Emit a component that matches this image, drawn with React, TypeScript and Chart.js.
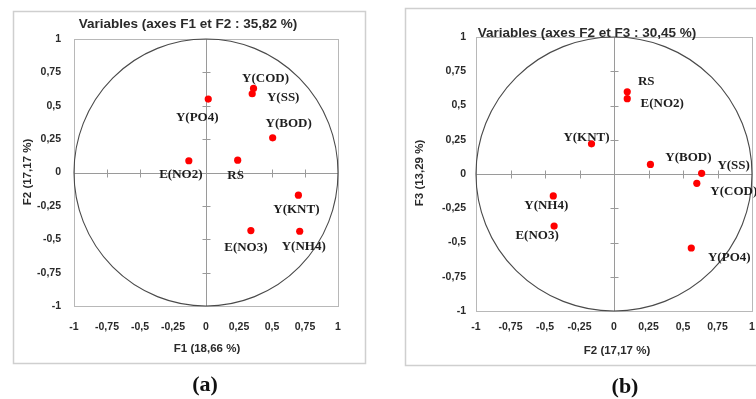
import React, { useEffect, useRef } from "react";
import { Chart, registerables } from "chart.js";

Chart.register(...registerables);

// ---- data ----
const labelsA = ["Y(PO4)", "Y(COD)", "Y(SS)", "Y(BOD)", "E(NO2)", "RS", "Y(KNT)", "E(NO3)", "Y(NH4)"];
const f1A = [0.017, 0.36, 0.35, 0.505, -0.13, 0.24, 0.7, 0.34, 0.71];
const f2A = [0.55, 0.63, 0.59, 0.26, 0.088, 0.092, -0.17, -0.435, -0.44];

const labelsB = ["RS", "E(NO2)", "Y(KNT)", "Y(BOD)", "Y(SS)", "Y(COD)", "Y(NH4)", "E(NO3)", "Y(PO4)"];
const f2B = [0.096, 0.096, -0.163, 0.264, 0.635, 0.6, -0.44, -0.434, 0.56];
const f3B = [0.6, 0.55, 0.22, 0.07, 0.005, -0.068, -0.16, -0.38, -0.54];

const tickValues = [-1, -0.75, -0.5, -0.25, 0, 0.25, 0.5, 0.75, 1];
const tickLabels = ["-1", "-0,75", "-0,5", "-0,25", "0", "0,25", "0,5", "0,75", "1"];

// ---- layout / style (not data) ----
const offsetsA: [number, number][] = [
  [-11, 19], [12, -10], [31, 4], [16, -14], [-8, 14], [-2, 15], [-2, 14], [-5, 17], [4, 15],
];
const offsetsB: [number, number][] = [
  [19, -10], [35, 5], [-5, -6], [38, -7], [32, -8], [37, 8], [-7, 10], [-17, 10], [38, 10],
];

type Panel = {
  labels: string[];
  xs: number[];
  ys: number[];
  offsets: [number, number][];
  title: string;
  titlePos: [number, number];
  xTitle: string;
  xTitlePos: [number, number];
  yTitle: string;
  yTitlePos: [number, number];
  caption: string;
  captionPos: [number, number];
  frame: [number, number, number, number];
  padding: { left: number; top: number; right: number; bottom: number };
  yTickGap: number;
  xTickGap: number;
};

const panelA: Panel = {
  labels: labelsA,
  xs: f1A,
  ys: f2A,
  offsets: offsetsA,
  title: "Variables (axes F1 et F2 : 35,82 %)",
  titlePos: [188, 24],
  xTitle: "F1 (18,66 %)",
  xTitlePos: [207, 349],
  yTitle: "F2 (17,17 %)",
  yTitlePos: [28, 172],
  caption: "(a)",
  captionPos: [205, 385],
  frame: [13.5, 11.5, 352, 352],
  padding: { left: 74, top: 39, right: 40, bottom: 93 },
  yTickGap: 13,
  xTickGap: 21,
};

const panelB: Panel = {
  labels: labelsB,
  xs: f2B,
  ys: f3B,
  offsets: offsetsB,
  title: "Variables (axes F2 et F3 : 30,45 %)",
  titlePos: [209, 33],
  xTitle: "F2 (17,17 %)",
  xTitlePos: [239, 351],
  yTitle: "F3 (13,29 %)",
  yTitlePos: [42, 173],
  caption: "(b)",
  captionPos: [247, 387],
  frame: [27.5, 8.5, 400, 357],
  padding: { left: 98, top: 37, right: 2, bottom: 88 },
  yTickGap: 10,
  xTickGap: 16,
};

function makePlugin(p: Panel) {
  return {
    id: "pcaDecor",
    beforeDatasetsDraw(chart: any) {
      const ctx = chart.ctx as CanvasRenderingContext2D;
      const a = chart.chartArea;
      const xs = chart.scales.x;
      const ys = chart.scales.y;
      ctx.save();
      // outer frame
      ctx.strokeStyle = "#cfcfcf";
      ctx.lineWidth = 1.5;
      ctx.strokeRect(p.frame[0], p.frame[1], p.frame[2], p.frame[3]);
      // plot area border
      ctx.strokeStyle = "#b8b8b8";
      ctx.lineWidth = 1;
      ctx.strokeRect(Math.round(a.left) + 0.5, Math.round(a.top) + 0.5, Math.round(a.width), Math.round(a.height));
      // zero axes
      const x0 = Math.round(xs.getPixelForValue(0)) + 0.5;
      const y0 = Math.round(ys.getPixelForValue(0)) + 0.5;
      ctx.strokeStyle = "#9a9a9a";
      ctx.beginPath();
      ctx.moveTo(a.left, y0);
      ctx.lineTo(a.right, y0);
      ctx.moveTo(x0, a.top);
      ctx.lineTo(x0, a.bottom);
      for (const v of tickValues) {
        if (v === 0 || Math.abs(v) === 1) continue;
        const px = Math.round(xs.getPixelForValue(v)) + 0.5;
        const py = Math.round(ys.getPixelForValue(v)) + 0.5;
        ctx.moveTo(px, y0 - 4);
        ctx.lineTo(px, y0 + 4);
        ctx.moveTo(x0 - 4, py);
        ctx.lineTo(x0 + 4, py);
      }
      ctx.stroke();
      // correlation circle
      const cx = xs.getPixelForValue(0);
      const cy = ys.getPixelForValue(0);
      const rx = xs.getPixelForValue(1) - cx;
      const ry = cy - ys.getPixelForValue(1);
      ctx.strokeStyle = "#4a4a4a";
      ctx.lineWidth = 1.1;
      ctx.beginPath();
      ctx.ellipse(cx, cy, rx, ry, 0, 0, Math.PI * 2);
      ctx.stroke();
      ctx.restore();
    },
    afterDatasetsDraw(chart: any) {
      const ctx = chart.ctx as CanvasRenderingContext2D;
      const a = chart.chartArea;
      const xs = chart.scales.x;
      const ys = chart.scales.y;
      ctx.save();
      // tick labels
      ctx.fillStyle = "#2a2a2a";
      ctx.font = "bold 10.5px 'Liberation Sans', Arial, sans-serif";
      ctx.textBaseline = "middle";
      ctx.textAlign = "right";
      tickValues.forEach((v, i) => {
        ctx.fillText(tickLabels[i], a.left - p.yTickGap, ys.getPixelForValue(v));
      });
      ctx.textAlign = "center";
      tickValues.forEach((v, i) => {
        ctx.fillText(tickLabels[i], xs.getPixelForValue(v), a.bottom + p.xTickGap);
      });
      // axis titles
      ctx.font = "bold 11.5px 'Liberation Sans', Arial, sans-serif";
      ctx.fillText(p.xTitle, p.xTitlePos[0], p.xTitlePos[1]);
      ctx.save();
      ctx.translate(p.yTitlePos[0], p.yTitlePos[1]);
      ctx.rotate(-Math.PI / 2);
      ctx.fillText(p.yTitle, 0, 0);
      ctx.restore();
      // chart title
      ctx.font = "bold 13.5px 'Liberation Sans', Arial, sans-serif";
      ctx.fillText(p.title, p.titlePos[0], p.titlePos[1]);
      // point labels
      ctx.fillStyle = "#1e1e1e";
      ctx.font = "bold 13px 'Liberation Serif', 'Times New Roman', serif";
      const meta = chart.getDatasetMeta(0);
      meta.data.forEach((el: any, i: number) => {
        const o = p.offsets[i];
        ctx.fillText(p.labels[i], el.x + o[0], el.y + o[1]);
      });
      // caption
      ctx.fillStyle = "#111";
      ctx.font = "bold 22px 'Liberation Serif', 'Times New Roman', serif";
      ctx.fillText(p.caption, p.captionPos[0], p.captionPos[1]);
      ctx.restore();
    },
  };
}

function PcaChart({ panel, left }: { panel: Panel; left: number }) {
  const ref = useRef<HTMLCanvasElement | null>(null);
  useEffect(() => {
    if (!ref.current) return;
    const chart = new Chart(ref.current, {
      type: "scatter",
      data: {
        datasets: [
          {
            data: panel.xs.map((x, i) => ({ x, y: panel.ys[i] })),
            backgroundColor: "#ff0000",
            borderWidth: 0,
            pointRadius: 3.6,
          },
        ],
      },
      options: {
        animation: false,
        responsive: false,
        devicePixelRatio: 1,
        layout: { padding: panel.padding },
        scales: {
          x: { type: "linear", min: -1, max: 1, display: false },
          y: { type: "linear", min: -1, max: 1, display: false },
        },
        plugins: { legend: { display: false }, tooltip: { enabled: false } },
      },
      plugins: [makePlugin(panel)],
    });
    return () => chart.destroy();
  }, [panel]);
  return (
    <canvas
      ref={ref}
      width={378}
      height={399}
      style={{ position: "absolute", left, top: 0, width: 378, height: 399 }}
    />
  );
}

export default function App() {
  return (
    <div style={{ position: "fixed", left: 0, top: 0, width: 756, height: 399, background: "#fff", overflow: "hidden" }}>
      <PcaChart panel={panelA} left={0} />
      <PcaChart panel={panelB} left={378} />
    </div>
  );
}
